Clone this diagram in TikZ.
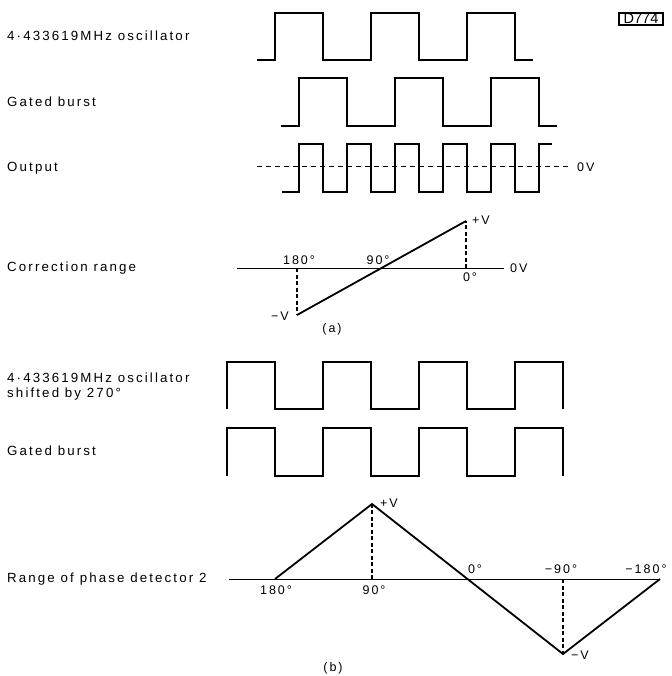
\documentclass[tikz,border=0pt]{standalone}
\usepackage{fontspec}
\setmainfont{Liberation Sans}[LetterSpace=16]
\usetikzlibrary{positioning}
\tikzstyle{wave}=[line width=1.8pt, line join=miter]
\tikzstyle{axis}=[line width=1pt]
\tikzstyle{drop}=[line width=1.2pt, dash pattern=on 4pt off 2.5pt]
\tikzstyle{rowlabel}=[anchor=west, inner sep=0, align=left,
                      font=\fontsize{13.3}{15.5}\selectfont]
\tikzstyle{tag}=[inner sep=0, font=\fontsize{12.5}{14}\selectfont]
\tikzstyle{timing}=[x=1pt, y=-1pt,
                    % every value below is a pixel of the 671x676 sheet
                    every node/.style={text depth=0pt}]

\begin{document}
\begin{tikzpicture}[timing]
    \useasboundingbox (0, 0) rectangle (671, 676);
    \node[draw, line width=1.2pt, inner xsep=1pt, inner ysep=1pt, minimum width=44pt, font=\fontsize{14.5}{15}\selectfont\addfontfeature{LetterSpace=0}] (drawno) at (641, 19) {D774};

    % (a) normal phase
    \node[rowlabel] (osc) at (7, 36) {4·433619MHz oscillator};
    \node[rowlabel] (burst) at (7, 102) {Gated burst};
    \node[rowlabel] (out) at (7, 167) {Output};
    \node[rowlabel] (corr) at (7, 267) {Correction range};
    \draw[wave] (257, 60) \foreach \x in {275, 371, 467} {-- (\x, 60) -- (\x, 13) -- ++(48, 0) -- ++(0, 47)} -- (533, 60);
    \draw[wave] (281, 126) \foreach \x in {299, 395, 491} {-- (\x, 126) -- (\x, 78) -- ++(48, 0) -- ++(0, 48)} -- (557, 126);
    \coordinate (dashend) at (568, 167);
    \node[tag, anchor=west] (zeroout) at (577, 167) {0V};
    \draw[dashed, line width=1pt, dash pattern=on 5pt off 4pt] (257, 167) -- (dashend);
    \draw[wave] (282, 192) \foreach \x in {299, 347, 395, 443, 491} {-- (\x, 192) -- (\x, 144) -- ++(24, 0) -- ++(0, 48)} -- (539, 192) -- (539, 144) -- (552, 144);

    \coordinate (a180) at (297, 268);
    \coordinate (a0) at (466, 268);
    \coordinate (aneg) at (297, 315);
    \coordinate (apos) at (466, 221);
    \node[tag, anchor=west] (zeroa) at (510, 268) {0V};
    \draw[axis] (237, 268) -- (504, 268);
    \draw[drop] (a180) -- (aneg);
    \draw[drop] (a0) -- (apos);
    \draw[wave] (aneg) -- (apos);
    \node[tag] at (299, 260) {180°};
    \node[tag] at (378, 260) {90°};
    \node[tag] at (470, 277) {0°};
    \node[tag] at (481, 220) {+V};
    \node[tag] at (280, 316) {−V};
    \node[tag] (capa) at (332, 328) {(a)};

    % (b) oscillator shifted by 270 degrees
    \node[rowlabel] (oscb) at (7, 385) {4·433619MHz oscillator\\shifted by 270°};
    \node[rowlabel] (burstb) at (7, 451) {Gated burst};
    \node[rowlabel] (det) at (7, 578) {Range of phase detector 2};
    \draw[wave] (227, 409) \foreach \x in {227, 323, 419, 515} {-- (\x, 409) -- (\x, 362) -- ++(48, 0) -- ++(0, 47)};
    \draw[wave] (227, 476) \foreach \x in {227, 323, 419, 515} {-- (\x, 476) -- (\x, 428) -- ++(48, 0) -- ++(0, 48)};

    \coordinate (b180) at (275, 579);
    \coordinate (b90) at (372, 579);
    \coordinate (bm90) at (563, 579);
    \coordinate (bpos) at (372, 504);
    \coordinate (bneg) at (563, 654);
    \coordinate (bend) at (660, 579);
    \draw[axis] (229, 579) -- (bend);
    \draw[drop] (b90) -- (bpos);
    \draw[drop] (bm90) -- (bneg);
    \draw[wave] (b180) -- (bpos) -- (bneg) -- (bend);
    \node[tag] at (276, 590) {180°};
    \node[tag] at (374, 590) {90°};
    \node[tag] at (475, 569) {0°};
    \node[tag] at (561, 569) {−90°};
    \node[tag] at (646, 569) {−180°};
    \node[tag] at (389, 503) {+V};
    \node[tag] at (580, 655) {−V};
    \node[tag] (capb) at (333, 667) {(b)};
\end{tikzpicture}
\end{document}
